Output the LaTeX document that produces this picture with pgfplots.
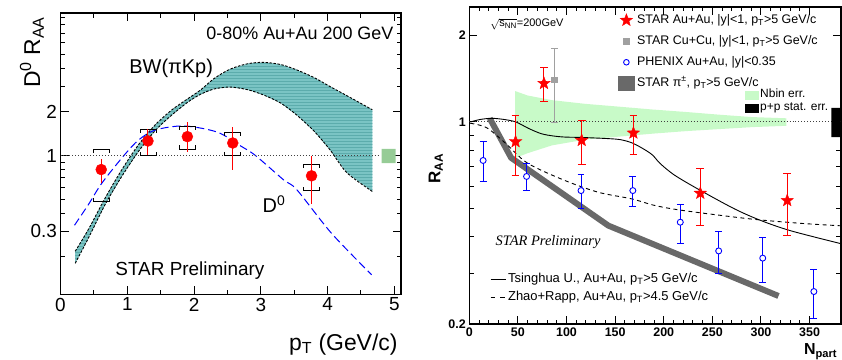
\documentclass[border=0pt]{standalone}
\usepackage{fontspec}
\setmainfont{Liberation Sans}
\newfontfamily\serifit{Liberation Serif}
\usepackage{pgfplots}
\pgfplotsset{compat=1.18}
\usetikzlibrary{patterns}
\definecolor{bwteal}{RGB}{122,196,196}
\definecolor{bwstripe}{RGB}{92,172,172}
\definecolor{sysgreen}{RGB}{150,204,150}
\definecolor{nbingreen}{RGB}{200,250,200}
\definecolor{cugray}{RGB}{160,160,160}
\definecolor{pigray}{RGB}{105,105,105}
\pgfdeclareplotmark{fstar}{%
 \pgfpathmoveto{\pgfpointpolar{90}{\pgfplotmarksize}}%
 \pgfpathlineto{\pgfpointpolar{126}{0.42*\pgfplotmarksize}}%
 \pgfpathlineto{\pgfpointpolar{162}{\pgfplotmarksize}}%
 \pgfpathlineto{\pgfpointpolar{198}{0.42*\pgfplotmarksize}}%
 \pgfpathlineto{\pgfpointpolar{234}{\pgfplotmarksize}}%
 \pgfpathlineto{\pgfpointpolar{270}{0.42*\pgfplotmarksize}}%
 \pgfpathlineto{\pgfpointpolar{306}{\pgfplotmarksize}}%
 \pgfpathlineto{\pgfpointpolar{342}{0.42*\pgfplotmarksize}}%
 \pgfpathlineto{\pgfpointpolar{18}{\pgfplotmarksize}}%
 \pgfpathlineto{\pgfpointpolar{54}{0.42*\pgfplotmarksize}}%
 \pgfpathclose
 \pgfusepathqfillstroke}
\begin{document}
\begin{tikzpicture}
\path[use as bounding box] (0,0) rectangle (842bp,360bp);
%================ LEFT PANEL =================
\begin{axis}[at={(60.5bp,65.7bp)}, anchor=south west, scale only axis,
  width=340.5bp, height=281bp, ymode=log,
  xmin=0, xmax=5.1, ymin=0.11, ymax=9.6,
  xtick={0,1,2,3,4,5}, minor x tick num=1,
  ytick={0.3,1,2}, yticklabels={0.3,1,2},
  minor ytick={0.2,0.4,0.5,0.6,0.7,0.8,0.9,3,4,5,6,7,8,9},
  major tick length=8bp, minor tick length=4.5bp,
  axis line style={line width=1.6bp},
  tick style={line width=1bp, black},
  /pgf/number format/assume math mode=true,
  ticklabel style={font=\fontsize{19}{20}\selectfont},
  clip mode=individual]
% BW band
\addplot[fill=bwteal, draw=none, postaction={pattern=horizontal lines, pattern color=bwstripe}] coordinates {
 (0.22,0.218) (0.42,0.31) (0.67,0.51) (0.92,0.80) (1.17,1.19) (1.42,1.63)
 (1.67,2.07) (1.92,2.49) (2.1,2.84) (2.3,3.4) (2.54,3.95) (2.8,4.3)
 (3.04,4.4) (3.3,4.25) (3.54,3.9) (3.8,3.45) (4.04,2.99) (4.35,2.5) (4.67,2.07)
 (4.67,0.565) (4.29,0.76) (4.04,1.09) (3.8,1.47) (3.54,1.9) (3.3,2.3) (3.04,2.62)
 (2.8,2.85) (2.54,2.97) (2.3,2.88) (2.1,2.65) (1.92,2.36) (1.67,1.91) (1.42,1.49)
 (1.17,1.07) (0.92,0.72) (0.67,0.46) (0.42,0.27) (0.22,0.18) (0.22,0.218)};
\addplot[black, line width=0.9bp, dash pattern=on 2.5bp off 1.5bp, smooth, tension=0.5] coordinates {
 (0.22,0.218) (0.42,0.31) (0.67,0.51) (0.92,0.80) (1.17,1.19) (1.42,1.63)
 (1.67,2.07) (1.92,2.49) (2.1,2.84) (2.3,3.4) (2.54,3.95) (2.8,4.3)
 (3.04,4.4) (3.3,4.25) (3.54,3.9) (3.8,3.45) (4.04,2.99) (4.35,2.5) (4.67,2.07)};
\addplot[black, line width=0.9bp, dash pattern=on 2.5bp off 1.5bp, smooth, tension=0.5] coordinates {
 (0.22,0.18) (0.42,0.27) (0.67,0.46) (0.92,0.72) (1.17,1.07) (1.42,1.49)
 (1.67,1.91) (1.92,2.36) (2.1,2.65) (2.3,2.88) (2.54,2.97) (2.8,2.85)
 (3.04,2.62) (3.3,2.3) (3.54,1.9) (3.8,1.47) (4.04,1.09) (4.29,0.76) (4.67,0.565)};
% D0 model (blue dashed)
\addplot[blue, line width=1bp, dash pattern=on 8bp off 4bp, smooth, tension=0.5] coordinates {
 (0.21,0.33) (0.42,0.46) (0.62,0.645) (0.95,1.0) (1.17,1.28) (1.42,1.50)
 (1.85,1.6) (2.35,1.45) (2.69,1.17) (2.92,1.0) (3.34,0.68) (3.54,0.58)
 (4.06,0.29) (4.66,0.15)};
% reference line at 1
\addplot[black!75, line width=1bp, dotted] coordinates {(0,1) (4.79,1)};
% normalisation box
\addplot[fill=sysgreen, draw=none] coordinates {(4.81,0.886) (5.02,0.886) (5.02,1.11) (4.81,1.11) (4.81,0.886)};
% systematic brackets
\addplot[black, line width=0.8bp, unbounded coords=jump] coordinates {
 (0.49,1.038) (0.49,1.10) (0.73,1.10) (0.73,1.038) (0.6,nan)
 (0.49,0.509) (0.49,0.48) (0.73,0.48) (0.73,0.509) (0.6,nan)
 (1.19,1.434) (1.19,1.52) (1.43,1.52) (1.43,1.434) (1.3,nan)
 (1.19,1.06) (1.19,1.00) (1.43,1.00) (1.43,1.06) (1.3,nan)
 (1.78,1.509) (1.78,1.60) (2.02,1.60) (2.02,1.509) (1.9,nan)
 (1.78,1.177) (1.78,1.11) (2.02,1.11) (2.02,1.177) (1.9,nan)
 (2.46,1.358) (2.46,1.44) (2.70,1.44) (2.70,1.358) (2.6,nan)
 (2.46,1.06) (2.46,1.00) (2.70,1.00) (2.70,1.06) (2.6,nan)
 (3.64,0.823) (3.64,0.872) (3.88,0.872) (3.88,0.823) (3.7,nan)
 (3.64,0.604) (3.64,0.57) (3.88,0.57) (3.88,0.604)};
% D0 data
\addplot[only marks, mark=*, red, mark size=5.5bp,
  error bars/.cd, y dir=both, y explicit, error mark=none,
  error bar style={red, line width=1bp}] coordinates {
 (0.61,0.80) += (0,0.145) -= (0,0.15)
 (1.31,1.26) += (0,0.26) -= (0,0.25)
 (1.90,1.35) += (0,0.35) -= (0,0.285)
 (2.58,1.22) += (0,0.36) -= (0,0.42)
 (3.76,0.724) += (0,0.276) -= (0,0.259)};
\node[anchor=east, font=\fontsize{18}{20}\selectfont] at (rel axis cs:0.988,0.93) {0-80\% Au+Au 200 GeV};
\node[font=\fontsize{20}{22}\selectfont] at (rel axis cs:0.325,0.805) {BW(πKp)};
\node[font=\fontsize{20}{22}\selectfont] at (rel axis cs:0.627,0.321) {D\textsuperscript{0}};
\node[anchor=west, font=\fontsize{19}{21}\selectfont] at (rel axis cs:0.151,0.085) {STAR Preliminary};
\node[rotate=90, anchor=east, font=\fontsize{23}{25}\selectfont] at (rel axis cs:-0.084,1.0) {D\textsuperscript{0} R\textsubscript{AA}};
\node[anchor=base east, yshift=-55.7bp, font=\fontsize{23}{25}\selectfont] at (rel axis cs:1,0) {p\textsubscript{T} (GeV/c)};
\end{axis}
%================ RIGHT PANEL =================
\begin{axis}[at={(469.3bp,36bp)}, anchor=south west, scale only axis,
  width=371.4bp, height=317bp, ymode=log,
  xmin=0, xmax=382, ymin=0.2, ymax=2.5,
  xtick={0,50,...,350}, minor x tick num=4,
  ytick={0.2,1,2}, yticklabels={0.2,1,2},
  minor ytick={0.3,0.4,0.5,0.6,0.7,0.8,0.9},
  major tick length=8bp, minor tick length=4.5bp,
  axis line style={line width=1.6bp},
  tick style={line width=1bp, black},
  /pgf/number format/assume math mode=true,
  ticklabel style={font=\bfseries\fontsize{12.5}{14}\selectfont},
  clip mode=individual]
% Nbin band
\addplot[fill=nbingreen, draw=none] coordinates {
 (47,1.28) (60,1.235) (85,1.19) (120,1.155) (154,1.13) (188,1.105) (223,1.083) (257,1.06) (291,1.04) (326,1.03)
 (326,0.97) (291,0.96) (257,0.945) (223,0.93) (188,0.911) (154,0.89) (120,0.87) (85,0.83) (60,0.78) (47,0.75) (47,1.28)};
% reference line
\addplot[black!75, line width=1bp, dotted] coordinates {(0,1) (382,1)};
% STAR pi band
\addplot[pigray, line width=6bp, line join=round] coordinates {(21,1.03) (43,0.752) (143,0.438) (318,0.25)};
% Tsinghua
\addplot[black, line width=0.9bp, smooth, tension=0.5] coordinates {
 (1,1.0) (11,1.02) (23,1.03) (36,1.02) (48,1.0) (61,0.95) (74,0.911) (86,0.895)
 (98,0.887) (116,0.884) (143,0.876) (156,0.868) (168,0.845) (181,0.8) (189,0.766)
 (196,0.72) (211,0.655) (238,0.579) (273,0.50) (300,0.456) (331,0.42) (384,0.378)};
% Zhao+Rapp
\addplot[black, line width=0.9bp, dash pattern=on 4bp off 3.5bp, smooth, tension=0.5] coordinates {
 (1,0.99) (18,0.955) (38,0.84) (60,0.72) (98,0.628) (133,0.571) (167,0.542)
 (191,0.514) (220,0.494) (289,0.462) (341,0.446) (384,0.437)};
% p+p stat err box
\addplot[fill=black, draw=none] coordinates {(372.5,0.887) (382,0.887) (382,1.12) (372.5,1.12) (372.5,0.887)};
% STAR Cu+Cu
\addplot[cugray, line width=0.9bp, unbounded coords=jump] coordinates {
 (83.9,1.80) (90.9,1.80) (87,nan) (83.9,1.0) (90.9,1.0)};
\addplot[only marks, mark=square*, cugray, mark size=2.8bp,
  error bars/.cd, y dir=both, y explicit, error mark=none,
  error bar style={cugray, line width=0.9bp}] coordinates {
 (87.4,1.40) += (0,0.40) -= (0,0.40)};
% PHENIX
\addplot[blue, line width=1bp, unbounded coords=jump] coordinates {
 (10.7,0.859) (17.7,0.859) (14,nan) (10.7,0.622) (17.7,0.622) (14,nan)
 (55.4,0.717) (62.4,0.717) (58,nan) (55.4,0.579) (62.4,0.579) (58,nan)
 (111.4,0.658) (118.4,0.658) (114,nan) (111.4,0.50) (118.4,0.50) (114,nan)
 (164.7,0.648) (171.7,0.648) (168,nan) (164.7,0.51) (171.7,0.51) (168,nan)
 (213.5,0.518) (220.5,0.518) (217,nan) (213.5,0.38) (220.5,0.38) (217,nan)
 (253,0.418) (260,0.418) (256,nan) (253,0.30) (260,0.30) (256,nan)
 (298.3,0.398) (305.3,0.398) (301,nan) (298.3,0.278) (305.3,0.278) (301,nan)
 (350.9,0.308) (357.9,0.308) (354,nan) (350.9,0.209) (357.9,0.209)};
\addplot[only marks, mark=*, blue, mark size=3bp, mark options={fill=white, draw=blue, line width=0.9bp},
  error bars/.cd, y dir=both, y explicit, error mark=none,
  error bar style={blue, line width=1bp}] coordinates {
 (14.2,0.736) += (0,0.123) -= (0,0.114)
 (58.9,0.648) += (0,0.069) -= (0,0.069)
 (114.9,0.579) += (0,0.079) -= (0,0.079)
 (168.2,0.579) += (0,0.069) -= (0,0.069)
 (217,0.45) += (0,0.068) -= (0,0.07)
 (256.5,0.358) += (0,0.06) -= (0,0.058)
 (301.8,0.338) += (0,0.06) -= (0,0.06)
 (354.4,0.259) += (0,0.049) -= (0,0.05)};
% STAR Au+Au
\addplot[red, line width=1bp, unbounded coords=jump] coordinates {
 (43.6,1.055) (51.6,1.055) (47,nan) (43.6,0.655) (51.6,0.655) (47,nan)
 (72.8,1.54) (80.8,1.54) (76,nan) (72.8,1.18) (80.8,1.18) (76,nan)
 (111.6,1.014) (119.6,1.014) (115,nan) (111.6,0.713) (119.6,0.713) (115,nan)
 (164.8,1.049) (172.8,1.049) (168,nan) (164.8,0.772) (172.8,0.772) (168,nan)
 (233.6,0.693) (241.6,0.693) (237,nan) (233.6,0.44) (241.6,0.44) (237,nan)
 (323,0.665) (331,0.665) (327,nan) (323,0.406) (331,0.406)};
\addplot[only marks, mark=fstar, red, mark size=6.5bp,
  error bars/.cd, y dir=both, y explicit, error mark=none,
  error bar style={red, line width=1bp}] coordinates {
 (47.6,0.855) += (0,0.20) -= (0,0.20)
 (76.8,1.36) += (0,0.18) -= (0,0.18)
 (115.6,0.864) += (0,0.15) -= (0,0.151)
 (168.8,0.916) += (0,0.133) -= (0,0.144)
 (237.6,0.567) += (0,0.126) -= (0,0.127)
 (327,0.535) += (0,0.13) -= (0,0.129)};
\node[anchor=west, font=\fontsize{11}{12}\selectfont] at (rel axis cs:0.047,0.946) {$\sqrt{\mbox{s}_{\mbox{\fontsize{8}{9}\selectfont NN}}}$=200GeV};
\node[font=\serifit\itshape\fontsize{14.5}{16}\selectfont] at (rel axis cs:0.212,0.259) {STAR Preliminary};
\node[rotate=90, font=\bfseries\fontsize{17}{19}\selectfont] at (rel axis cs:-0.09,0.49) {R\textsubscript{AA}};
\node[anchor=north east, yshift=-16bp, font=\bfseries\fontsize{16}{18}\selectfont] at (rel axis cs:1,0) {N\textsubscript{part}};
\end{axis}
% legend 1
\begin{axis}[at={(469.3bp,36bp)}, anchor=south west, scale only axis,
  width=371.4bp, height=317bp, hide axis, xmin=0, xmax=1, ymin=0, ymax=1,
  legend cell align=left,
  legend style={at={(0.399,0.984)}, anchor=north west, draw=none, fill=none,
    inner sep=0pt, row sep=5bp, font=\fontsize{12.5}{13}\selectfont,
    nodes={text height=9bp, text depth=3bp, inner sep=2bp}}]
\addlegendimage{legend image code/.code={\path (0bp,0bp) (17bp,0bp); \draw[red, fill=red, mark=fstar, mark size=6.5bp] plot coordinates {(8.5bp,0bp)};}}
\addlegendentry{STAR Au+Au, |y|<1, p\textsubscript{T}>5 GeV/c}
\addlegendimage{legend image code/.code={\path (0bp,0bp) (17bp,0bp); \fill[cugray] (5.7bp,-2.8bp) rectangle (11.3bp,2.8bp);}}
\addlegendentry{STAR Cu+Cu, |y|<1, p\textsubscript{T}>5 GeV/c}
\addlegendimage{legend image code/.code={\path (0bp,0bp) (17bp,0bp); \draw[blue, line width=0.9bp] (8.5bp,0bp) circle (2.8bp);}}
\addlegendentry{PHENIX Au+Au, |y|<0.35}
\addlegendimage{legend image code/.code={\path (0bp,0bp) (17bp,0bp); \fill[pigray] (0.5bp,-7.3bp) rectangle (16bp,7.3bp);}}
\addlegendentry{STAR π\textsuperscript{±}, p\textsubscript{T}>5 GeV/c}
\end{axis}
% legend 2
\begin{axis}[at={(469.3bp,36bp)}, anchor=south west, scale only axis,
  width=371.4bp, height=317bp, hide axis, xmin=0, xmax=1, ymin=0, ymax=1,
  legend cell align=left,
  legend style={at={(0.742,0.743)}, anchor=north west, draw=none, fill=none,
    inner sep=0pt, row sep=0bp, font=\fontsize{12}{13}\selectfont,
    nodes={text height=8.5bp, text depth=3bp, inner sep=0.75bp}}]
\addlegendimage{legend image code/.code={\path (0bp,0bp) (14bp,0bp); \fill[nbingreen] (0bp,-4.3bp) rectangle (13bp,4.3bp);}}
\addlegendentry{Nbin err.}
\addlegendimage{legend image code/.code={\path (0bp,0bp) (14bp,0bp); \fill[black] (0bp,-3.9bp) rectangle (13bp,3.9bp);}}
\addlegendentry{p+p stat. err.}
\end{axis}
% legend 3
\begin{axis}[at={(469.3bp,36bp)}, anchor=south west, scale only axis,
  width=371.4bp, height=317bp, hide axis, xmin=0, xmax=1, ymin=0, ymax=1,
  legend cell align=left,
  legend style={at={(0.0557,0.169)}, anchor=north west, draw=none, fill=none,
    inner sep=0pt, row sep=1bp, font=\fontsize{13}{14}\selectfont,
    nodes={text height=9.5bp, text depth=3.5bp, inner sep=2bp}}]
\addlegendimage{legend image code/.code={\path (0bp,0bp) (15bp,0bp); \draw[black, line width=0.9bp] (0bp,0bp) -- (15bp,0bp);}}
\addlegendentry{Tsinghua U., Au+Au, p\textsubscript{T}>5 GeV/c}
\addlegendimage{legend image code/.code={\path (0bp,0bp) (15bp,0bp); \draw[black, line width=0.9bp, dash pattern=on 4.5bp off 5bp] (0bp,0bp) -- (15bp,0bp);}}
\addlegendentry{Zhao+Rapp, Au+Au, p\textsubscript{T}>4.5 GeV/c}
\end{axis}
\end{tikzpicture}
\end{document}
